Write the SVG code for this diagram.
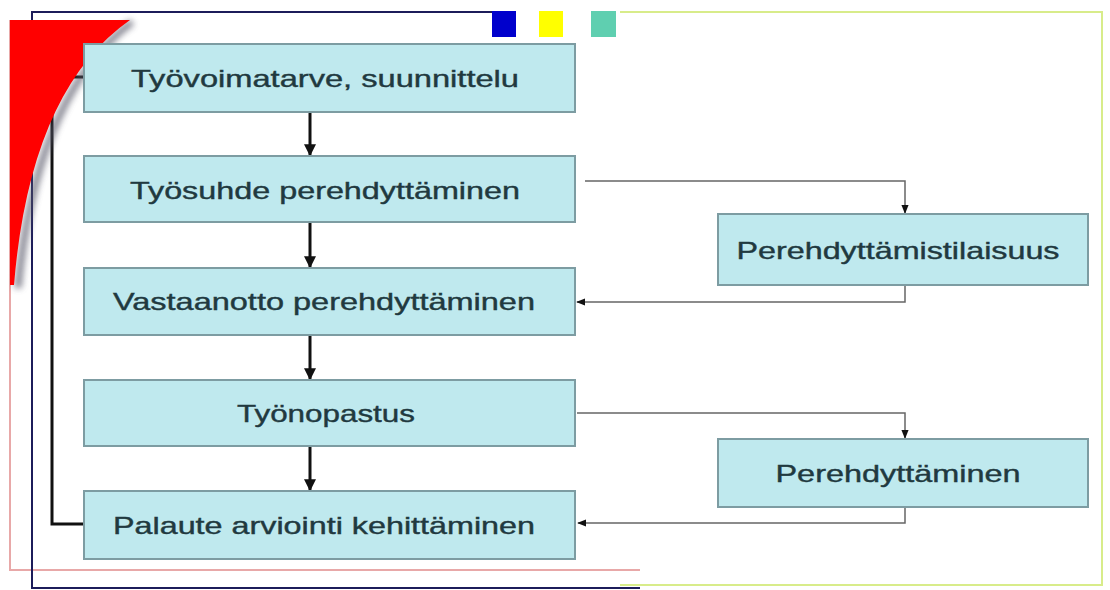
<svg xmlns="http://www.w3.org/2000/svg" width="1110" height="590" viewBox="0 0 1110 590">
<style>
.box{fill:#bfe9ee;stroke:#7d9ca2;stroke-width:2}
.lbl{font-family:"Liberation Sans",Arial,sans-serif;font-size:24px;fill:#21393f;stroke:#21393f;stroke-width:0.4;text-anchor:middle}
.main{stroke:#111;stroke-width:3;fill:none}
.thin{stroke:#666;stroke-width:1.5;fill:none}
</style>
<defs>
<marker id="ah" viewBox="0 0 10 10" refX="9" refY="5" markerWidth="4" markerHeight="4" orient="auto"><path d="M0,0 L10,5 L0,10 Z" fill="#111"/></marker>
<marker id="as" viewBox="0 0 10 10" refX="9" refY="5" markerWidth="6" markerHeight="6" orient="auto"><path d="M0,1 L10,5 L0,9 Z" fill="#111"/></marker>
<filter id="blur" x="-20%" y="-20%" width="140%" height="140%"><feGaussianBlur stdDeviation="3"/></filter>
</defs>
<rect width="1110" height="590" fill="#fff"/>
<g id="frame">
<path d="M620,12 H1102 V585 H620" fill="none" stroke="#d8ec8a" stroke-width="2"/>
<path d="M10,20 V570 H640" fill="none" stroke="#e8a8a8" stroke-width="2"/>
<path d="M492,12 H32 V588 H640" fill="none" stroke="#1c1c5a" stroke-width="2"/>
<rect x="492" y="11" width="24" height="26" fill="#0000cc"/>
<rect x="539" y="11" width="24" height="26" fill="#ffff00"/>
<rect x="591" y="11" width="25" height="26" fill="#5fcfb0"/>
</g>
<g id="connectors">
<line class="main" x1="310" y1="112" x2="310" y2="155" marker-end="url(#ah)"/>
<line class="main" x1="310" y1="222" x2="310" y2="267" marker-end="url(#ah)"/>
<line class="main" x1="310" y1="335" x2="310" y2="379" marker-end="url(#ah)"/>
<line class="main" x1="310" y1="446" x2="310" y2="490" marker-end="url(#ah)"/>
<path class="main" d="M84,524 H52 V77 H84"/>
<path class="thin" d="M585,181 H905 V213" marker-end="url(#as)"/>
<path class="thin" d="M905,285 V302 H577" marker-end="url(#as)"/>
<path class="thin" d="M577,413 H905 V438" marker-end="url(#as)"/>
<path class="thin" d="M905,507 V523 H578" marker-end="url(#as)"/>
</g>
<g id="red-swoosh">
<path d="M132,22 Q36,94 18,288" fill="none" stroke="#556" stroke-width="7" filter="url(#blur)" opacity="0.7"/>
<path d="M10,20 H130 Q30,90 14,285 H10 Z" fill="#ff0000"/>
</g>
<g id="n1"><rect class="box" x="84" y="44" width="491" height="68"/><text class="lbl" x="325" y="87" textLength="388" lengthAdjust="spacingAndGlyphs">Työvoimatarve, suunnittelu</text></g>
<g id="n2"><rect class="box" x="84" y="156" width="491" height="66"/><text class="lbl" x="325" y="199" textLength="390" lengthAdjust="spacingAndGlyphs">Työsuhde perehdyttäminen</text></g>
<g id="n3"><rect class="box" x="84" y="268" width="491" height="67"/><text class="lbl" x="324" y="310" textLength="422" lengthAdjust="spacingAndGlyphs">Vastaanotto perehdyttäminen</text></g>
<g id="n4"><rect class="box" x="84" y="380" width="491" height="66"/><text class="lbl" x="326" y="422" textLength="178" lengthAdjust="spacingAndGlyphs">Työnopastus</text></g>
<g id="n5"><rect class="box" x="84" y="491" width="491" height="68"/><text class="lbl" x="324" y="534" textLength="422" lengthAdjust="spacingAndGlyphs">Palaute arviointi kehittäminen</text></g>
<g id="nA"><rect class="box" x="718" y="214" width="370" height="71"/><text class="lbl" x="898" y="259" textLength="323" lengthAdjust="spacingAndGlyphs">Perehdyttämistilaisuus</text></g>
<g id="nB"><rect class="box" x="718" y="439" width="370" height="68"/><text class="lbl" x="898" y="482" textLength="245" lengthAdjust="spacingAndGlyphs">Perehdyttäminen</text></g>
</svg>
